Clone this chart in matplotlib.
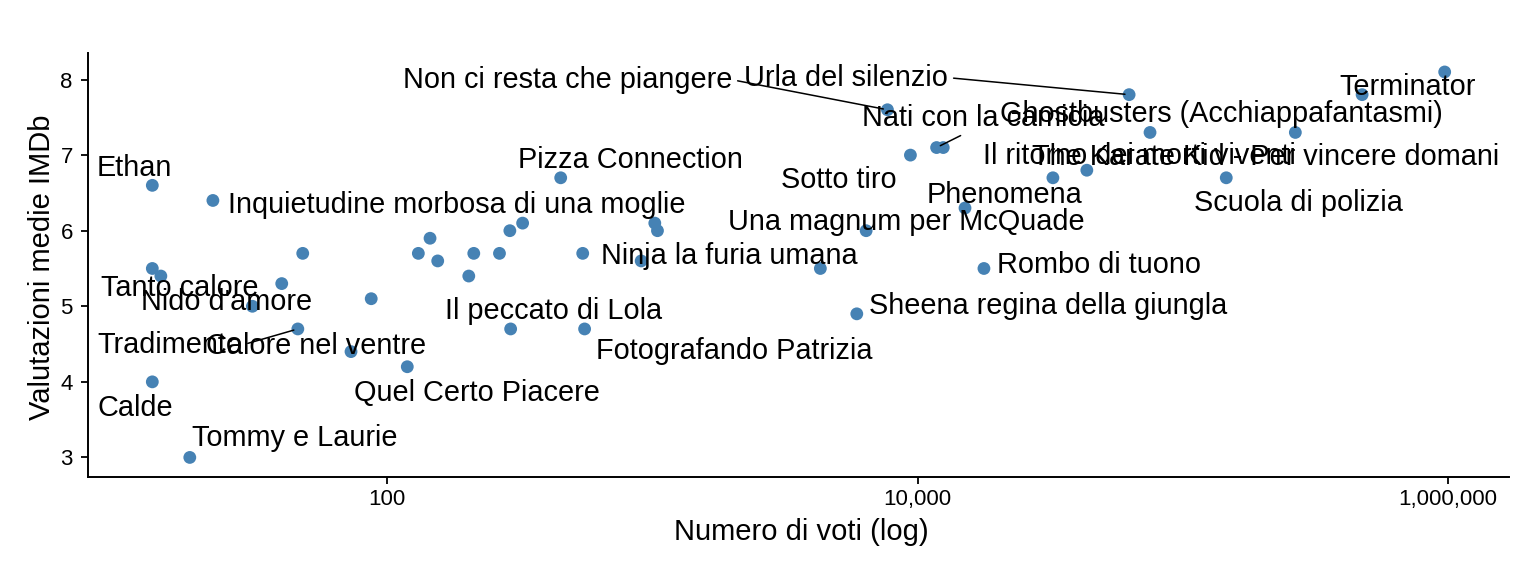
import numpy as np
import matplotlib
matplotlib.use("Agg")
import matplotlib.pyplot as plt
from matplotlib.ticker import FuncFormatter, NullLocator

plt.rcParams['font.family'] = ['Liberation Sans', 'DejaVu Sans']

# films: number of IMDb votes, mean rating, italian title ('' = no label)
votes = [13, 22, 48, 13, 14, 40, 87, 31, 46, 73, 119, 13, 18,
         131, 145, 155, 212, 203, 265, 290, 324, 292, 451, 546,
         1021, 1045, 907, 555, 5900, 4300, 6400, 17800, 7700, 62800,
         11800, 12500, 9400, 75300, 266000, 475000, 973000, 146000,
         43500, 32400, 15100]
ratings = [6.6, 6.4, 5.7, 5.5, 5.4, 5.3, 5.1, 5.0, 4.7, 4.4, 4.2, 4.0, 3.0,
           5.7, 5.9, 5.6, 5.7, 5.4, 5.7, 6.0, 6.1, 4.7, 6.7, 5.7,
           6.1, 6.0, 5.6, 4.7, 4.9, 5.5, 6.0, 5.5, 7.6, 7.8,
           7.1, 7.1, 7.0, 7.3, 7.3, 7.8, 8.1, 6.7,
           6.8, 6.7, 6.3]
titles = ["Ethan", "Inquietudine morbosa di una moglie", "", "Tanto calore", "",
          "", "", "Nido d'amore", "Tradimento", "Calore nel ventre",
          "Quel Certo Piacere", "Calde", "Tommy e Laurie",
          "", "", "", "", "", "", "", "", "Il peccato di Lola",
          "Pizza Connection", "Ninja la furia umana",
          "", "", "", "Fotografando Patrizia", "Sheena regina della giungla", "",
          "Una magnum per McQuade", "Rombo di tuono", "Non ci resta che piangere",
          "Urla del silenzio", "Nati con la camicia", "", "Sotto tiro",
          "Il ritorno dei morti viventi", "The Karate Kid - Per vincere domani",
          "Ghostbusters (Acchiappafantasmi)", "Terminator", "Scuola di polizia",
          "", "Phenomena", ""]

x_ticks = [100, 10000, 1000000]
y_ticks = [3, 4, 5, 6, 7, 8]

# where each label sits relative to its point (pixels, y up)
label_offset = {
    "Ethan": (-18, 17),
    "Inquietudine morbosa di una moglie": (244, -5),
    "Tanto calore": (27, -20),
    "Nido d'amore": (-26, 4),
    "Tradimento": (-128, -16),
    "Calore nel ventre": (-35, 6),
    "Calde": (-17, -26),
    "Tommy e Laurie": (105, 19),
    "Quel Certo Piacere": (70, -26),
    "Il peccato di Lola": (43, 18),
    "Fotografando Patrizia": (150, -22),
    "Pizza Connection": (70, 18),
    "Ninja la furia umana": (147, -3),
    "Sotto tiro": (-72, -25),
    "Una magnum per McQuade": (40, 9),
    "Sheena regina della giungla": (191, 8),
    "Rombo di tuono": (115, 3),
    "Non ci resta che piangere": (-320, 30),
    "Urla del silenzio": (-283, 17),
    "Nati con la camicia": (47, 30),
    "Ghostbusters (Acchiappafantasmi)": (-141, -19),
    "Il ritorno dei morti viventi": (-11, -24),
    "The Karate Kid - Per vincere domani": (-30, -25),
    "Terminator": (-37, -15),
    "Phenomena": (-48, -17),
    "Scuola di polizia": (72, -25),
}
# labels that get a connecting segment, with the anchor on the label box
segments = {
    "Tradimento": (1.0, 0.5),
    "Non ci resta che piangere": (1.0, 0.5),
    "Urla del silenzio": (1.0, 0.5),
    "Nati con la camicia": (0.45, 0.05),
}

fig = plt.figure(figsize=(15.36, 5.76), dpi=100)
ax = fig.add_axes([87.7 / 1536, 99.3 / 576, 1421.6 / 1536, 424 / 576])

ax.scatter(votes, ratings, s=85, color='steelblue', edgecolors='none', zorder=2)

for v, r, t in zip(votes, ratings, titles):
    if not t:
        continue
    arrow = None
    if t in segments:
        arrow = dict(arrowstyle='-', color='black', lw=1.1,
                     shrinkA=2, shrinkB=3, relpos=segments[t])
    ax.annotate(t, xy=(v, r), xytext=label_offset[t], textcoords='offset pixels',
                ha='center', va='center', fontsize=20.8, color='black',
                arrowprops=arrow, zorder=3)

# ggplot-like 5% expansion (log space for x)
lx = np.log10(votes)
dx = (lx.max() - lx.min()) * 0.05
ax.set_xscale('log')
ax.set_xlim(10 ** (lx.min() - dx), 10 ** (lx.max() + dx))
dy = (max(ratings) - min(ratings)) * 0.05
ax.set_ylim(min(ratings) - dy, max(ratings) + dy)

ax.set_xticks(x_ticks)
ax.xaxis.set_minor_locator(NullLocator())
ax.xaxis.set_major_formatter(FuncFormatter(lambda v, p: f"{int(v):,}"))
ax.set_yticks(y_ticks)

for s in ['top', 'right']:
    ax.spines[s].set_visible(False)
for s in ['left', 'bottom']:
    ax.spines[s].set_linewidth(1.4)
ax.tick_params(axis='both', length=4.7, width=1.3, labelsize=16, colors='black')
ax.tick_params(axis='x', pad=4.5)
ax.tick_params(axis='y', pad=6)

ax.set_xlabel('Numero di voti (log)', fontsize=21)
ax.set_ylabel('Valutazioni medie IMDb', fontsize=21)
ax.xaxis.set_label_coords(0.5017, -0.097)
ax.yaxis.set_label_coords(-0.0223, 0.495)

fig.savefig('out.png', dpi=100)
